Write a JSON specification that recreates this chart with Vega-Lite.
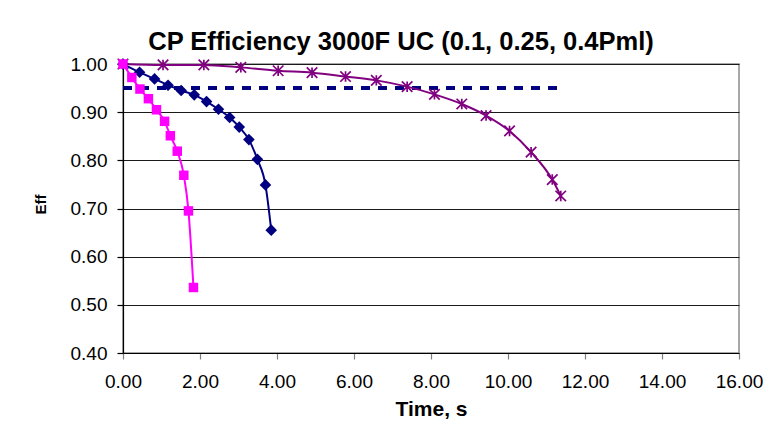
{
  "$schema": "https://vega.github.io/schema/vega-lite/v6.json",
  "autosize": "none",
  "width": 616,
  "height": 289,
  "padding": {"left": 123, "top": 64, "right": 32, "bottom": 68},
  "background": "white",
  "title": {
    "text": "CP Efficiency 3000F UC (0.1, 0.25, 0.4Pml)",
    "font": "Liberation Sans",
    "fontSize": 25.5,
    "fontWeight": "bold",
    "color": "black",
    "anchor": "middle",
    "dx": -30,
    "baseline": "alphabetic",
    "offset": -20
  },
  "config": {
    "view": {"stroke": "#8c8c8c", "strokeWidth": 1.5},
    "axis": {
      "labelFont": "Liberation Sans",
      "titleFont": "Liberation Sans",
      "labelColor": "black",
      "titleColor": "black",
      "domainColor": "black",
      "domainWidth": 1.2
    }
  },
  "data": {
    "values": [
      {"series": "0.4Pml", "t": 0, "eff": 1.0},
      {"series": "0.4Pml", "t": 0.23, "eff": 0.972},
      {"series": "0.4Pml", "t": 0.44, "eff": 0.948},
      {"series": "0.4Pml", "t": 0.66, "eff": 0.928},
      {"series": "0.4Pml", "t": 0.87, "eff": 0.905},
      {"series": "0.4Pml", "t": 1.08, "eff": 0.881},
      {"series": "0.4Pml", "t": 1.23, "eff": 0.851},
      {"series": "0.4Pml", "t": 1.41, "eff": 0.819},
      {"series": "0.4Pml", "t": 1.58, "eff": 0.769},
      {"series": "0.4Pml", "t": 1.70, "eff": 0.695},
      {"series": "0.4Pml", "t": 1.83, "eff": 0.536},
      {"series": "0.25Pml", "t": 0, "eff": 1.0},
      {"series": "0.25Pml", "t": 0.43, "eff": 0.983},
      {"series": "0.25Pml", "t": 0.82, "eff": 0.969},
      {"series": "0.25Pml", "t": 1.17, "eff": 0.956},
      {"series": "0.25Pml", "t": 1.51, "eff": 0.945},
      {"series": "0.25Pml", "t": 1.85, "eff": 0.936},
      {"series": "0.25Pml", "t": 2.17, "eff": 0.922},
      {"series": "0.25Pml", "t": 2.48, "eff": 0.906},
      {"series": "0.25Pml", "t": 2.77, "eff": 0.889},
      {"series": "0.25Pml", "t": 3.02, "eff": 0.869},
      {"series": "0.25Pml", "t": 3.27, "eff": 0.843},
      {"series": "0.25Pml", "t": 3.49, "eff": 0.802},
      {"series": "0.25Pml", "t": 3.70, "eff": 0.749},
      {"series": "0.25Pml", "t": 3.85, "eff": 0.655},
      {"series": "0.1Pml", "t": 0, "eff": 1.0},
      {"series": "0.1Pml", "t": 1.04, "eff": 0.998},
      {"series": "0.1Pml", "t": 2.10, "eff": 0.998},
      {"series": "0.1Pml", "t": 3.06, "eff": 0.993},
      {"series": "0.1Pml", "t": 4.03, "eff": 0.986},
      {"series": "0.1Pml", "t": 4.91, "eff": 0.982},
      {"series": "0.1Pml", "t": 5.78, "eff": 0.974},
      {"series": "0.1Pml", "t": 6.58, "eff": 0.966},
      {"series": "0.1Pml", "t": 7.38, "eff": 0.953},
      {"series": "0.1Pml", "t": 8.09, "eff": 0.937},
      {"series": "0.1Pml", "t": 8.80, "eff": 0.917},
      {"series": "0.1Pml", "t": 9.43, "eff": 0.893},
      {"series": "0.1Pml", "t": 10.04, "eff": 0.861},
      {"series": "0.1Pml", "t": 10.60, "eff": 0.817},
      {"series": "0.1Pml", "t": 11.15, "eff": 0.760},
      {"series": "0.1Pml", "t": 11.37, "eff": 0.726},
      {"series": "95%", "t": 0, "eff": 0.95},
      {"series": "95%", "t": 11.34, "eff": 0.95}
    ]
  },
  "encoding": {
    "x": {
      "field": "t", "type": "quantitative",
      "scale": {"domain": [0, 16], "nice": false, "zero": false},
      "axis": {
        "values": [0, 2, 4, 6, 8, 10, 12, 14, 16],
        "format": ".2f",
        "labelFontSize": 19,
        "labelPadding": 13,
        "labelFlush": false,
        "labelOverlap": false,
        "labelBound": false,
        "tickSize": 6,
        "tickColor": "#808080",
        "tickWidth": 1.2,
        "grid": false,
        "title": "Time, s",
        "titleFontSize": 21,
        "titleFontWeight": "bold",
        "titleBaseline": "alphabetic",
        "titleY": 62
      }
    },
    "y": {
      "field": "eff", "type": "quantitative",
      "scale": {"domain": [0.4, 1.0], "nice": false, "zero": false},
      "axis": {
        "values": [0.4, 0.5, 0.6, 0.7, 0.8, 0.9, 1.0],
        "format": ".2f",
        "labelFontSize": 19,
        "labelPadding": 10,
        "labelFlush": false,
        "labelOverlap": false,
        "labelBound": false,
        "tickSize": 6,
        "tickColor": "black",
        "tickWidth": 1.2,
        "grid": true,
        "gridColor": "#1a1a1a",
        "gridWidth": 1.2,
        "title": "Eff",
        "titleFontSize": 15,
        "titleFontWeight": "bold",
        "titleAngle": -90,
        "titleBaseline": "alphabetic",
        "titleAlign": "center",
        "titleX": -78,
        "titleY": 140
      }
    }
  },
  "layer": [
    {
      "transform": [{"filter": "datum.series === '95%'"}],
      "mark": {"type": "line", "color": "#000080", "strokeWidth": 4, "strokeDash": [9, 8]}
    },
    {
      "transform": [{"filter": "datum.series === '0.1Pml'"}],
      "mark": {"type": "line", "color": "#800080", "strokeWidth": 2, "interpolate": "monotone"}
    },
    {
      "transform": [{"filter": "datum.series === '0.1Pml'"}],
      "mark": {"type": "point", "color": "#800080", "filled": false, "strokeWidth": 1.7, "size": 110, "opacity": 1,
        "shape": "M-1,-1L1,1M1,-1L-1,1M0,-1L0,1"}
    },
    {
      "transform": [{"filter": "datum.series === '0.25Pml'"}],
      "mark": {"type": "line", "color": "#000080", "strokeWidth": 2, "interpolate": "monotone"}
    },
    {
      "transform": [{"filter": "datum.series === '0.25Pml'"}],
      "mark": {"type": "point", "color": "#000080", "filled": true, "size": 135, "opacity": 1, "shape": "diamond"}
    },
    {
      "transform": [{"filter": "datum.series === '0.4Pml'"}],
      "mark": {"type": "line", "color": "#FF00FF", "strokeWidth": 2, "interpolate": "monotone"}
    },
    {
      "transform": [{"filter": "datum.series === '0.4Pml'"}],
      "mark": {"type": "point", "color": "#FF00FF", "filled": true, "size": 90, "opacity": 1, "shape": "square"}
    }
  ]
}
